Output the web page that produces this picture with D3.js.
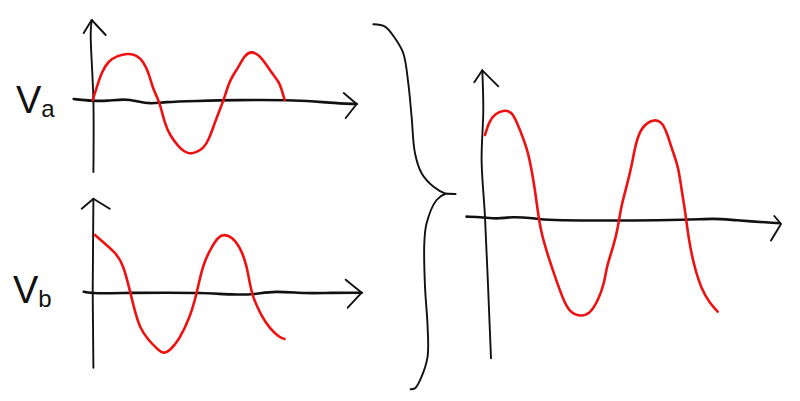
<!DOCTYPE html>
<html lang="en">
<head>
<meta charset="utf-8">
<title>Va and Vb sum</title>
<script src="https://cdn.jsdelivr.net/npm/d3@7"></script>
<style>
  body { margin: 0; background: #fff; }
  svg { display: block; }
  .sketch { fill: none; stroke-linecap: round; stroke-linejoin: round; }
  text { font-family: "Liberation Sans", sans-serif; fill: #111; }
</style>
</head>
<body>
<script>
// every series is [time, voltage]
const vaCurve = [[0,0],[4,12.7],[9,28],[15.7,39],[24,44],[35,46.7],[44,45],[51,38],[56,27],[60,12],[65,1.7],[68,-6.7],[72,-23],[77,-35],[86,-47],[92,-52],[98,-54],[104,-52],[111,-48],[116,-40],[122,-23],[127,-10],[132,3],[137,20],[146,33],[152,45],[159,49],[166,45],[172,38],[179,27],[187,17],[189,10],[192,0]];
const vaHoriz = [[-19,1],[0,-1],[14,-1],[32,1],[44,-1],[57,-4],[71,-2],[104,-1],[141,0],[207,0],[237,-3],[264,-4]];
const vaHorizHead = [[251,7],[264,-4],[253,-18]];
const vaVert = [[0.7,-72],[0.7,0],[-2,67],[-1,80]];
const vaVertHead = [[-9,67],[-1,80],[13,65]];

const vbCurve = [[2.3,57.7],[10.7,50.3],[24,39.3],[31,26],[35.7,7.7],[38.3,-2.3],[42.3,-19],[47.3,-35.7],[55.7,-47.3],[64,-55.7],[70,-61.3],[77.3,-58],[87.3,-45.7],[97.3,-24],[102.3,-7.3],[105.7,7.7],[110.7,29.3],[119,46],[125.7,56],[131.3,58.3],[139,56],[147.3,46],[154,27.7],[157.3,7.7],[160,-4],[169,-24],[177.3,-35.7],[185.7,-44],[191.7,-46.3]];
const vbHoriz = [[-9,1],[0,-1],[41,0],[74,0],[107,0],[141,-2],[161,-2],[181,2],[214,-1],[237,0],[269,0]];
const vbHorizHead = [[253,13],[269,0],[255,-15]];
const vbVert = [[0.7,-75],[0,0],[0.7,94]];
const vbVertHead = [[-11,84],[0.7,94],[17,84]];

const sumCurve = [[1.7,82.3],[5.7,95.7],[11.7,103.3],[20,107.3],[28.3,105.7],[33.3,95.7],[40,79],[45,64],[48.3,47.3],[51.7,27.3],[54.3,7.3],[57.3,-12.7],[63.3,-34.3],[71.7,-59.3],[80,-82.7],[86.7,-95.3],[96.7,-99.3],[106.7,-96.7],[115,-82.7],[121,-66],[123.3,-49.3],[130,-29.3],[134.3,-12.7],[137.7,10.7],[143.3,30.7],[148.3,50.7],[152.3,74],[158.3,90.7],[170,98.3],[178.3,95.7],[183.3,85.7],[190,64],[195,50.7],[198.3,27.3],[201.7,7.3],[205,-19.3],[210,-46],[218.3,-72.7],[226.7,-86],[234.3,-94.3]];
const sumHoriz = [[-16.7,0.7],[0,0],[15,-1.7],[28,0.7],[51.7,-1],[61.7,-2.7],[98.3,-3.3],[135,-3.3],[205,-2.7],[231.7,-1],[248.3,-2.7],[296.7,-6]];
const sumHorizHead = [[291,1.3],[297.7,-6.7],[287.7,-23.3]];
const sumVert = [[7.7,-141],[1.7,0],[-1.7,57],[0,107],[-1,147]];
const sumVertHead = [[-9,135],[-1,147],[15,131]];

// the big brace, in the same units as the sum panel
const brace = [[-110,193],[-98.3,190.7],[-88.3,179],[-80,164],[-75,134],[-71.7,100.7],[-68.3,64],[-61.7,44],[-50,30.7],[-38.3,24],[-27.7,23.3],[-38.3,23.3],[-46.7,17.3],[-56.7,-6],[-59,-26],[-58.3,-69.3],[-55.7,-109.3],[-55.7,-139.3],[-61.7,-159.3],[-68.3,-171],[-72.7,-172]];

const w = 800;
const h = 401;

const svg = d3.select("body")
              .append("svg")
              .attr("width", w)
              .attr("height", h);

function drawPanel(ox, oy, curve, horiz, others) {
  const x = d3.scaleLinear().domain([0, 100]).range([ox, ox + 100]);
  const y = d3.scaleLinear().domain([0, 100]).range([oy, oy - 100]);
  const line = d3.line()
                 .x(d => x(d[0]))
                 .y(d => y(d[1]));

  others.forEach(l => {
    svg.append("path")
       .attr("class", "sketch")
       .attr("d", line.curve(l.length > 3 ? d3.curveCatmullRom : d3.curveLinear)(l))
       .attr("stroke", "#111")
       .attr("stroke-width", 1.9);
  });

  svg.append("path")
     .attr("class", "sketch")
     .attr("d", line.curve(d3.curveBasis)(horiz))
     .attr("stroke", "#111")
     .attr("stroke-width", 2.6);

  svg.append("path")
     .attr("class", "sketch")
     .attr("d", line.curve(d3.curveBasis)(curve))
     .attr("stroke", "#ee1111")
     .attr("stroke-width", 2.6);
}

drawPanel(92.7, 100, vaCurve, vaHoriz, [vaHorizHead, vaVert, vaVertHead]);
drawPanel(92.7, 292.7, vbCurve, vbHoriz, [vbHorizHead, vbVert, vbVertHead]);
drawPanel(483.3, 217.3, sumCurve, sumHoriz, [sumHorizHead, sumVert, sumVertHead, brace]);

function label(px, py, main, sub) {
  const t = svg.append("text").attr("x", px).attr("y", py);
  t.append("tspan").style("font-size", "38px").text(main);
  t.append("tspan").style("font-size", "24px").attr("dy", 4).text(sub);
}

label(16, 113, "V", "a");
label(13, 303, "V", "b");
</script>
</body>
</html>
